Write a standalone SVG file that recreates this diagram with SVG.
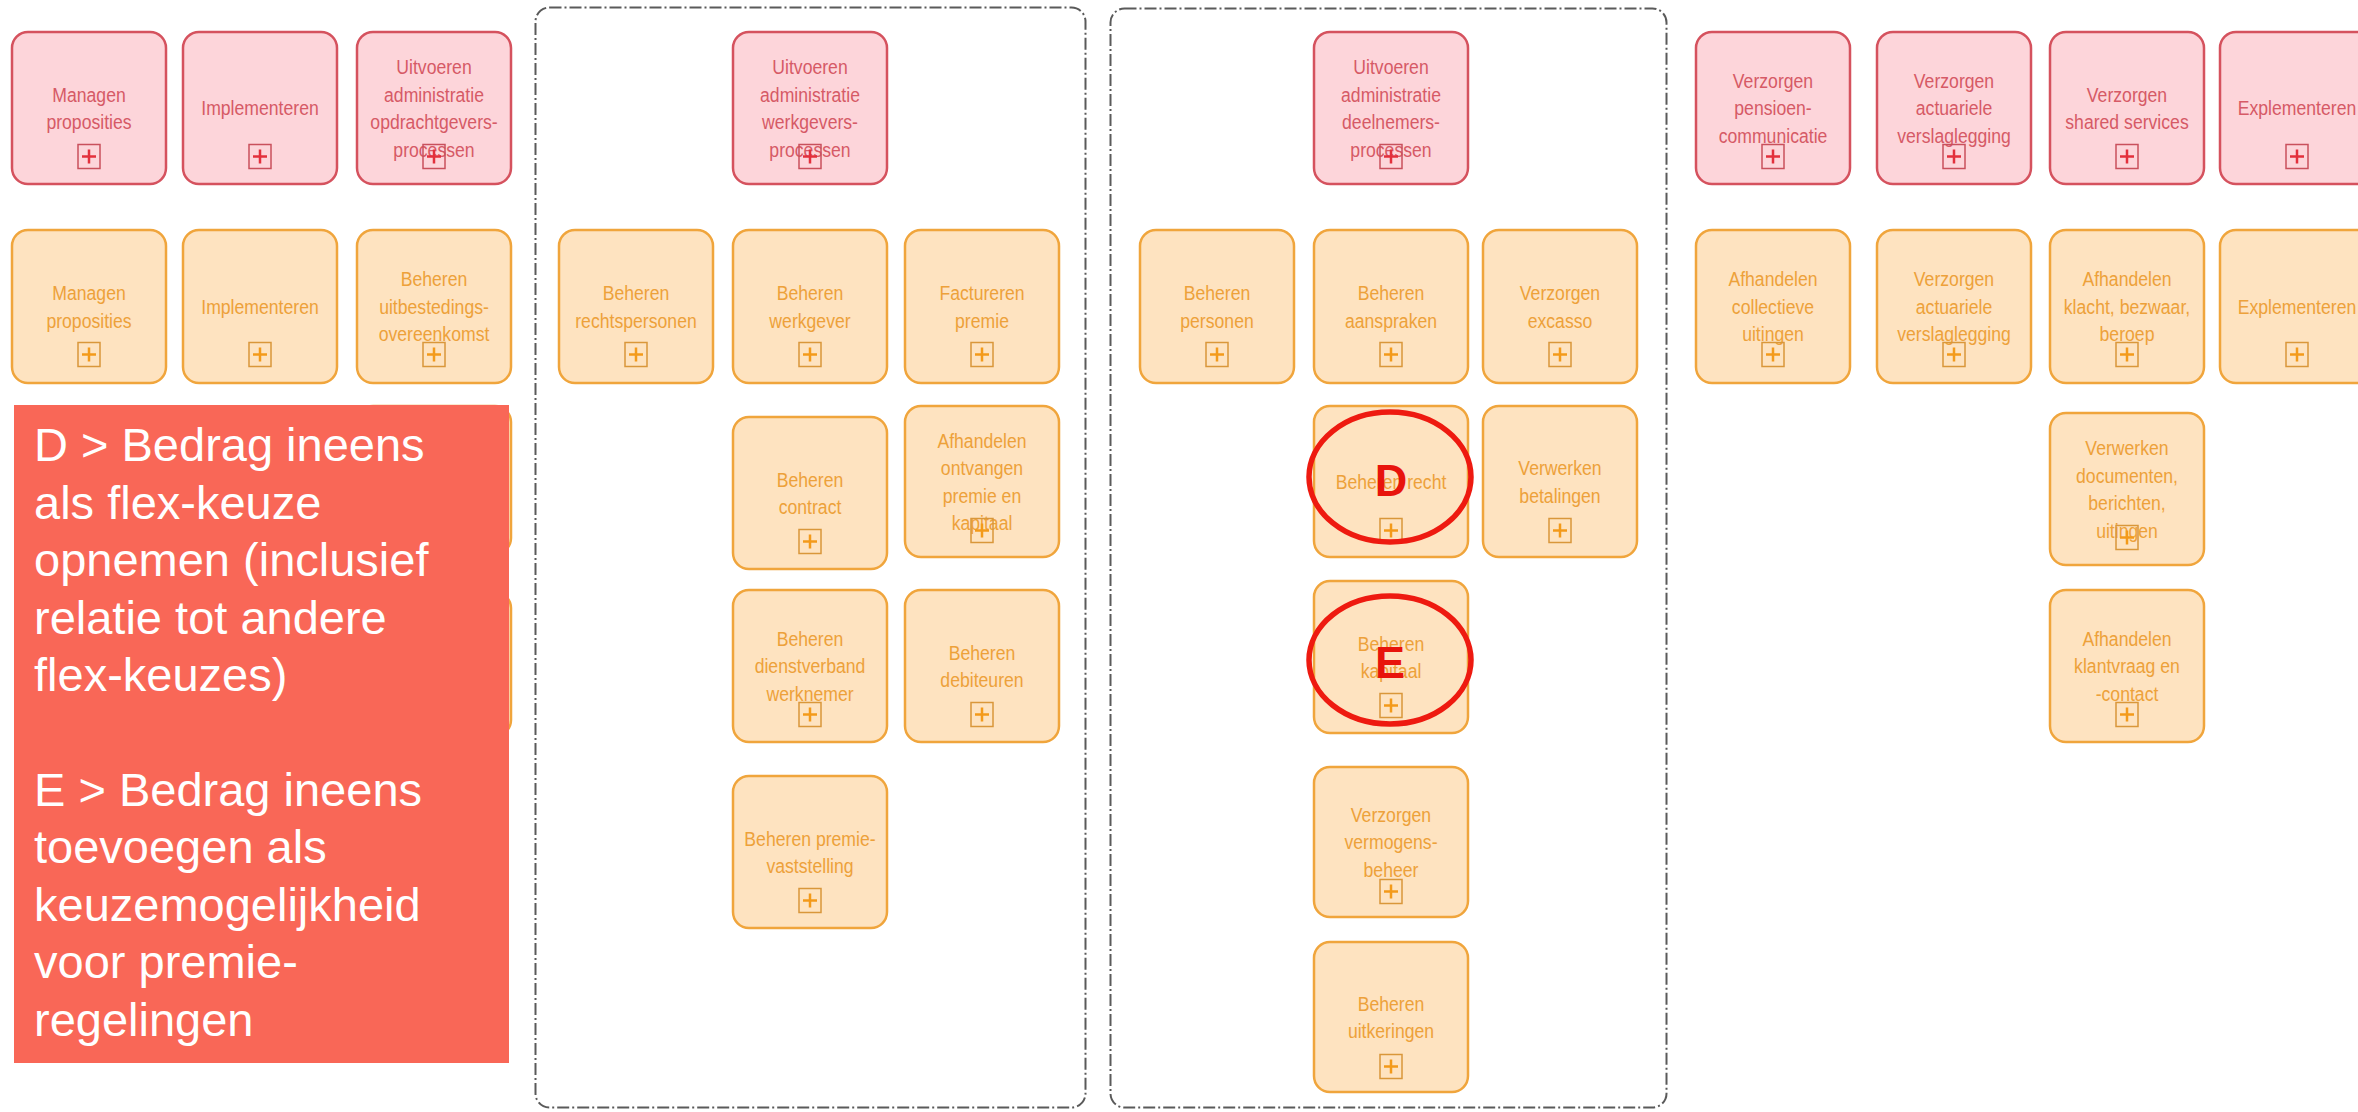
<svg xmlns="http://www.w3.org/2000/svg" xmlns:xlink="http://www.w3.org/1999/xlink" width="2358" height="1112" viewBox="0 0 2358 1112">
<style>
.pk{fill:#fdd5da;stroke:#d5525e;stroke-width:2.5}
.or{fill:#fee3c0;stroke:#f0a53c;stroke-width:2.5}
.tp{font-family:"Liberation Sans",Arial,sans-serif;font-size:21px;fill:#d65a66;text-anchor:middle}
.to{font-family:"Liberation Sans",Arial,sans-serif;font-size:21px;fill:#eda13a;text-anchor:middle}
.cont{fill:none;stroke:#5a5a5a;stroke-width:2;stroke-dasharray:12 3 2 3}
.note{font-family:"Liberation Sans",Arial,sans-serif;font-size:47px;fill:#ffffff}
.ring{fill:none;stroke:#ee1a10;stroke-width:5.5}
.lbl{font-family:"Liberation Sans",Arial,sans-serif;font-size:45px;font-weight:bold;fill:#e8140c;text-anchor:middle}
</style>
<defs>
<g id="pp"><rect x="-11" y="-12" width="22" height="24" fill="none" stroke="#c9505c" stroke-width="1.5"/><path d="M-7 0H7M0-7V7" stroke="#e3303c" stroke-width="2.5"/></g>
<g id="po"><rect x="-11" y="-12" width="22" height="24" fill="none" stroke="#d9973a" stroke-width="1.5"/><path d="M-7 0H7M0-7V7" stroke="#f39a1a" stroke-width="2.5"/></g>
</defs>
<rect x="0" y="0" width="2358" height="1112" fill="#ffffff"/>

<g id="containers">
<rect class="cont" x="535.5" y="7.5" width="550" height="1100" rx="14"/>
<rect class="cont" x="1110.5" y="8.5" width="556" height="1099" rx="14"/>
</g>

<g id="connectors"></g>

<!-- pink row -->
<g id="p-managen"><rect class="pk" x="12" y="32" width="154" height="152" rx="16"/><text class="tp" transform="translate(89 0) scale(0.84 1)"><tspan x="0" y="101.75">Managen</tspan><tspan x="0" y="129.25">proposities</tspan></text><use xlink:href="#pp" x="89" y="156.5"/></g>
<g id="p-impl"><rect class="pk" x="183" y="32" width="154" height="152" rx="16"/><text class="tp" transform="translate(260 0) scale(0.84 1)"><tspan x="0" y="115.5">Implementeren</tspan></text><use xlink:href="#pp" x="260" y="156.5"/></g>
<g id="p-opdr"><rect class="pk" x="357" y="32" width="154" height="152" rx="16"/><text class="tp" transform="translate(434 0) scale(0.84 1)"><tspan x="0" y="74.25">Uitvoeren</tspan><tspan x="0" y="101.75">administratie</tspan><tspan x="0" y="129.25">opdrachtgevers-</tspan><tspan x="0" y="156.75">processen</tspan></text><use xlink:href="#pp" x="434" y="156.5"/></g>
<g id="p-werkg"><rect class="pk" x="733" y="32" width="154" height="152" rx="16"/><text class="tp" transform="translate(810 0) scale(0.84 1)"><tspan x="0" y="74.25">Uitvoeren</tspan><tspan x="0" y="101.75">administratie</tspan><tspan x="0" y="129.25">werkgevers-</tspan><tspan x="0" y="156.75">processen</tspan></text><use xlink:href="#pp" x="810" y="156.5"/></g>
<g id="p-deeln"><rect class="pk" x="1314" y="32" width="154" height="152" rx="16"/><text class="tp" transform="translate(1391 0) scale(0.84 1)"><tspan x="0" y="74.25">Uitvoeren</tspan><tspan x="0" y="101.75">administratie</tspan><tspan x="0" y="129.25">deelnemers-</tspan><tspan x="0" y="156.75">processen</tspan></text><use xlink:href="#pp" x="1391" y="156.5"/></g>
<g id="p-pensioen"><rect class="pk" x="1696" y="32" width="154" height="152" rx="16"/><text class="tp" transform="translate(1773 0) scale(0.84 1)"><tspan x="0" y="88">Verzorgen</tspan><tspan x="0" y="115.5">pensioen-</tspan><tspan x="0" y="143">communicatie</tspan></text><use xlink:href="#pp" x="1773" y="156.5"/></g>
<g id="p-actuar"><rect class="pk" x="1877" y="32" width="154" height="152" rx="16"/><text class="tp" transform="translate(1954 0) scale(0.84 1)"><tspan x="0" y="88">Verzorgen</tspan><tspan x="0" y="115.5">actuariele</tspan><tspan x="0" y="143">verslaglegging</tspan></text><use xlink:href="#pp" x="1954" y="156.5"/></g>
<g id="p-shared"><rect class="pk" x="2050" y="32" width="154" height="152" rx="16"/><text class="tp" transform="translate(2127 0) scale(0.84 1)"><tspan x="0" y="101.75">Verzorgen</tspan><tspan x="0" y="129.25">shared services</tspan></text><use xlink:href="#pp" x="2127" y="156.5"/></g>
<g id="p-explem"><rect class="pk" x="2220" y="32" width="154" height="152" rx="16"/><text class="tp" transform="translate(2297 0) scale(0.84 1)"><tspan x="0" y="115.5">Explementeren</tspan></text><use xlink:href="#pp" x="2297" y="156.5"/></g>

<!-- orange row -->
<g id="o-managen"><rect class="or" x="12" y="230" width="154" height="153" rx="16"/><text class="to" transform="translate(89 0) scale(0.84 1)"><tspan x="0" y="300.25">Managen</tspan><tspan x="0" y="327.75">proposities</tspan></text><use xlink:href="#po" x="89" y="354.5"/></g>
<g id="o-impl"><rect class="or" x="183" y="230" width="154" height="153" rx="16"/><text class="to" transform="translate(260 0) scale(0.84 1)"><tspan x="0" y="314">Implementeren</tspan></text><use xlink:href="#po" x="260" y="354.5"/></g>
<g id="o-uitbest"><rect class="or" x="357" y="230" width="154" height="153" rx="16"/><text class="to" transform="translate(434 0) scale(0.84 1)"><tspan x="0" y="286.5">Beheren</tspan><tspan x="0" y="314">uitbestedings-</tspan><tspan x="0" y="341.5">overeenkomst</tspan></text><use xlink:href="#po" x="434" y="354.5"/></g>
<g id="o-hidden1"><rect class="or" x="357" y="406" width="154" height="148" rx="16"/></g>
<g id="o-hidden2"><rect class="or" x="357" y="592" width="154" height="144" rx="16"/></g>
<g id="o-rechtsp"><rect class="or" x="559" y="230" width="154" height="153" rx="16"/><text class="to" transform="translate(636 0) scale(0.84 1)"><tspan x="0" y="300.25">Beheren</tspan><tspan x="0" y="327.75">rechtspersonen</tspan></text><use xlink:href="#po" x="636" y="354.5"/></g>
<g id="o-werkgever"><rect class="or" x="733" y="230" width="154" height="153" rx="16"/><text class="to" transform="translate(810 0) scale(0.84 1)"><tspan x="0" y="300.25">Beheren</tspan><tspan x="0" y="327.75">werkgever</tspan></text><use xlink:href="#po" x="810" y="354.5"/></g>
<g id="o-factureren"><rect class="or" x="905" y="230" width="154" height="153" rx="16"/><text class="to" transform="translate(982 0) scale(0.84 1)"><tspan x="0" y="300.25">Factureren</tspan><tspan x="0" y="327.75">premie</tspan></text><use xlink:href="#po" x="982" y="354.5"/></g>
<g id="o-personen"><rect class="or" x="1140" y="230" width="154" height="153" rx="16"/><text class="to" transform="translate(1217 0) scale(0.84 1)"><tspan x="0" y="300.25">Beheren</tspan><tspan x="0" y="327.75">personen</tspan></text><use xlink:href="#po" x="1217" y="354.5"/></g>
<g id="o-aanspraken"><rect class="or" x="1314" y="230" width="154" height="153" rx="16"/><text class="to" transform="translate(1391 0) scale(0.84 1)"><tspan x="0" y="300.25">Beheren</tspan><tspan x="0" y="327.75">aanspraken</tspan></text><use xlink:href="#po" x="1391" y="354.5"/></g>
<g id="o-excasso"><rect class="or" x="1483" y="230" width="154" height="153" rx="16"/><text class="to" transform="translate(1560 0) scale(0.84 1)"><tspan x="0" y="300.25">Verzorgen</tspan><tspan x="0" y="327.75">excasso</tspan></text><use xlink:href="#po" x="1560" y="354.5"/></g>
<g id="o-collectief"><rect class="or" x="1696" y="230" width="154" height="153" rx="16"/><text class="to" transform="translate(1773 0) scale(0.84 1)"><tspan x="0" y="286.5">Afhandelen</tspan><tspan x="0" y="314">collectieve</tspan><tspan x="0" y="341.5">uitingen</tspan></text><use xlink:href="#po" x="1773" y="354.5"/></g>
<g id="o-actuar"><rect class="or" x="1877" y="230" width="154" height="153" rx="16"/><text class="to" transform="translate(1954 0) scale(0.84 1)"><tspan x="0" y="286.5">Verzorgen</tspan><tspan x="0" y="314">actuariele</tspan><tspan x="0" y="341.5">verslaglegging</tspan></text><use xlink:href="#po" x="1954" y="354.5"/></g>
<g id="o-klacht"><rect class="or" x="2050" y="230" width="154" height="153" rx="16"/><text class="to" transform="translate(2127 0) scale(0.84 1)"><tspan x="0" y="286.5">Afhandelen</tspan><tspan x="0" y="314">klacht, bezwaar,</tspan><tspan x="0" y="341.5">beroep</tspan></text><use xlink:href="#po" x="2127" y="354.5"/></g>
<g id="o-explem"><rect class="or" x="2220" y="230" width="154" height="153" rx="16"/><text class="to" transform="translate(2297 0) scale(0.84 1)"><tspan x="0" y="314">Explementeren</tspan></text><use xlink:href="#po" x="2297" y="354.5"/></g>

<!-- container 1 -->
<g id="o-contract"><rect class="or" x="733" y="417" width="154" height="152" rx="16"/><text class="to" transform="translate(810 0) scale(0.84 1)"><tspan x="0" y="486.75">Beheren</tspan><tspan x="0" y="514.25">contract</tspan></text><use xlink:href="#po" x="810" y="541.5"/></g>
<g id="o-ontvangen"><rect class="or" x="905" y="406" width="154" height="151" rx="16"/><text class="to" transform="translate(982 0) scale(0.84 1)"><tspan x="0" y="447.75">Afhandelen</tspan><tspan x="0" y="475.25">ontvangen</tspan><tspan x="0" y="502.75">premie en</tspan><tspan x="0" y="530.25">kapitaal</tspan></text><use xlink:href="#po" x="982" y="530.5"/></g>
<g id="o-dienstverband"><rect class="or" x="733" y="590" width="154" height="152" rx="16"/><text class="to" transform="translate(810 0) scale(0.84 1)"><tspan x="0" y="646">Beheren</tspan><tspan x="0" y="673.5">dienstverband</tspan><tspan x="0" y="701">werknemer</tspan></text><use xlink:href="#po" x="810" y="714.5"/></g>
<g id="o-debiteuren"><rect class="or" x="905" y="590" width="154" height="152" rx="16"/><text class="to" transform="translate(982 0) scale(0.84 1)"><tspan x="0" y="659.75">Beheren</tspan><tspan x="0" y="687.25">debiteuren</tspan></text><use xlink:href="#po" x="982" y="714.5"/></g>
<g id="o-premievast"><rect class="or" x="733" y="776" width="154" height="152" rx="16"/><text class="to" transform="translate(810 0) scale(0.84 1)"><tspan x="0" y="845.75">Beheren premie-</tspan><tspan x="0" y="873.25">vaststelling</tspan></text><use xlink:href="#po" x="810" y="900.5"/></g>

<!-- container 2 -->
<g id="o-recht"><rect class="or" x="1314" y="406" width="154" height="151" rx="16"/><text class="to" transform="translate(1391 0) scale(0.84 1)"><tspan x="0" y="489">Beheren recht</tspan></text><use xlink:href="#po" x="1391" y="530.5"/></g>
<g id="o-betalingen"><rect class="or" x="1483" y="406" width="154" height="151" rx="16"/><text class="to" transform="translate(1560 0) scale(0.84 1)"><tspan x="0" y="475.25">Verwerken</tspan><tspan x="0" y="502.75">betalingen</tspan></text><use xlink:href="#po" x="1560" y="530.5"/></g>
<g id="o-kapitaal"><rect class="or" x="1314" y="581" width="154" height="152" rx="16"/><text class="to" transform="translate(1391 0) scale(0.84 1)"><tspan x="0" y="650.75">Beheren</tspan><tspan x="0" y="678.25">kapitaal</tspan></text><use xlink:href="#po" x="1391" y="705.5"/></g>
<g id="o-vermogen"><rect class="or" x="1314" y="767" width="154" height="150" rx="16"/><text class="to" transform="translate(1391 0) scale(0.84 1)"><tspan x="0" y="822">Verzorgen</tspan><tspan x="0" y="849.5">vermogens-</tspan><tspan x="0" y="877">beheer</tspan></text><use xlink:href="#po" x="1391" y="891.5"/></g>
<g id="o-uitkeringen"><rect class="or" x="1314" y="942" width="154" height="150" rx="16"/><text class="to" transform="translate(1391 0) scale(0.84 1)"><tspan x="0" y="1010.75">Beheren</tspan><tspan x="0" y="1038.25">uitkeringen</tspan></text><use xlink:href="#po" x="1391" y="1066.5"/></g>

<!-- right column -->
<g id="o-documenten"><rect class="or" x="2050" y="413" width="154" height="152" rx="16"/><text class="to" transform="translate(2127 0) scale(0.84 1)"><tspan x="0" y="455.25">Verwerken</tspan><tspan x="0" y="482.75">documenten,</tspan><tspan x="0" y="510.25">berichten,</tspan><tspan x="0" y="537.75">uitingen</tspan></text><use xlink:href="#po" x="2127" y="537.5"/></g>
<g id="o-klantvraag"><rect class="or" x="2050" y="590" width="154" height="152" rx="16"/><text class="to" transform="translate(2127 0) scale(0.84 1)"><tspan x="0" y="646">Afhandelen</tspan><tspan x="0" y="673.5">klantvraag en</tspan><tspan x="0" y="701">-contact</tspan></text><use xlink:href="#po" x="2127" y="714.5"/></g>

<!-- note -->
<g id="note">
<rect x="14" y="405" width="495" height="658" fill="#f96757"/>
<text class="note"><tspan x="34" y="461">D &gt; Bedrag ineens</tspan><tspan x="34" y="518.5">als flex-keuze</tspan><tspan x="34" y="576">opnemen (inclusief</tspan><tspan x="34" y="633.5">relatie tot andere</tspan><tspan x="34" y="691">flex-keuzes)</tspan><tspan x="34" y="805.5">E &gt; Bedrag ineens</tspan><tspan x="34" y="863">toevoegen als</tspan><tspan x="34" y="920.5">keuzemogelijkheid</tspan><tspan x="34" y="978">voor premie-</tspan><tspan x="34" y="1035.5">regelingen</tspan></text>
</g>

<!-- markers D / E -->
<g id="mark-D"><ellipse class="ring" cx="1390" cy="477" rx="81" ry="65"/><text class="lbl" x="1391" y="496">D</text></g>
<g id="mark-E"><ellipse class="ring" cx="1390" cy="660" rx="81" ry="64"/><text class="lbl" x="1390" y="678">E</text></g>
</svg>
